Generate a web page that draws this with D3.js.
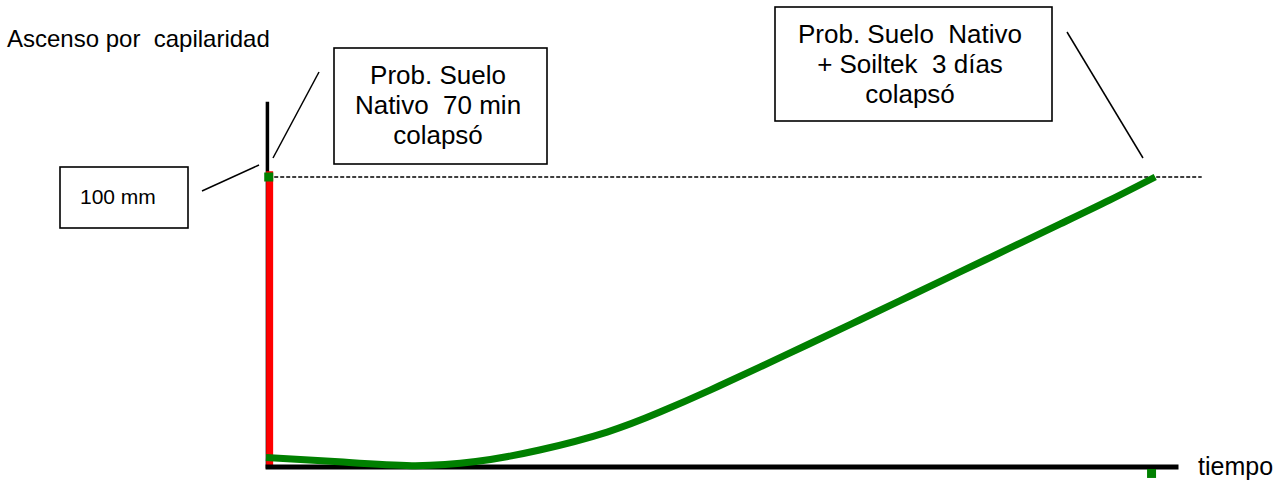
<!DOCTYPE html>
<html>
<head>
<meta charset="utf-8">
<script src="https://cdn.jsdelivr.net/npm/d3@7"></script>
<style>
  body { margin: 0; background: #fff; }
  svg { display: block; }
  text { font-family: "Liberation Sans", Arial, sans-serif; fill: #000; white-space: pre; }
</style>
</head>
<body>
<div id="chart"></div>
<script>
// Ascenso por capilaridad vs tiempo (arbitrary time units)

// Suelo nativo + Soiltek (green)
const tiempoSoiltek = [0, 8, 16, 23, 30, 37.4, 43.2, 48.7, 54.2, 59.6, 65.1, 70.6, 76.1, 81.6, 87.1, 92.5, 97.5];
const ascensoSoiltek = [3.1, 1.6, 0.3, 1.7, 5.7, 11.9, 18.8, 26.4, 34.4, 42.4, 50.6, 58.9, 67.2, 75.5, 83.8, 92.0, 100];

// Suelo nativo (red) - collapses almost immediately
const tiempoNativo = [0.4, 0.4];
const ascensoNativo = [-0.5, 102];

// loose green markers
const markerTiempo = [0.3, 97.1];
const markerAscenso = [100, -2.4];

// reference level
const nivelRef = 100;

// annotation texts
const tituloY = 'Ascenso por  capilaridad';
const tituloX = 'tiempo';
const etiquetaNivel = '100 mm';
const notaNativo = ['Prob. Suelo', 'Nativo  70 min', 'colapsó'];
const notaSoiltek = ['Prob. Suelo  Nativo', '+ Soiltek  3 días', 'colapsó'];

let svgWidth = 1277;
let svgHeight = 485;

let svg = d3.select('#chart')
  .append('svg')
  .attr('width', svgWidth)
  .attr('height', svgHeight);

// scales
let x = d3.scaleLinear().domain([0, 100]).range([266, 1178]);
let y = d3.scaleLinear().domain([0, 100]).range([466.5, 177]);

// y axis (no ticks, just the line)
let yAxisScale = d3.scaleLinear().domain([-0.5, 126.2]).range([y(-0.5), y(126.2)]);
svg.append('g')
  .attr('transform', `translate(${x(0.1)},0)`)
  .call(d3.axisLeft(yAxisScale).tickValues([]).tickSizeOuter(0))
  .select('.domain')
  .attr('stroke', '#000')
  .attr('stroke-width', 3.5);

// dashed 100 mm level
svg.append('line')
  .attr('x1', x(0.9)).attr('x2', x(102.6))
  .attr('y1', y(nivelRef)).attr('y2', y(nivelRef))
  .attr('stroke', '#000')
  .attr('stroke-width', 1.3)
  .attr('stroke-dasharray', '4,2');

// red series
let lineNativo = d3.line()
  .x((d, i) => x(tiempoNativo[i]))
  .y(d => y(d));
svg.append('path')
  .datum(ascensoNativo)
  .attr('d', lineNativo)
  .attr('fill', 'none')
  .attr('stroke', '#ff0000')
  .attr('stroke-width', 7);

// x axis
let xAxisScale = d3.scaleLinear().domain([-0.1, 100]).range([x(-0.1), x(100)]);
svg.append('g')
  .attr('transform', `translate(0,${y(0)})`)
  .call(d3.axisBottom(xAxisScale).tickValues([]).tickSizeOuter(0))
  .select('.domain')
  .attr('stroke', '#000')
  .attr('stroke-width', 5);

// green series
let lineSoiltek = d3.line()
  .x((d, i) => x(tiempoSoiltek[i]))
  .y(d => y(d))
  .curve(d3.curveNatural);
svg.append('path')
  .datum(ascensoSoiltek)
  .attr('d', lineSoiltek)
  .attr('fill', 'none')
  .attr('stroke', '#008000')
  .attr('stroke-width', 7);

// green markers
svg.selectAll('rect.marker')
  .data(markerTiempo)
  .enter()
  .append('rect')
  .attr('class', 'marker')
  .attr('x', d => x(d) - 4.5)
  .attr('y', (d, i) => y(markerAscenso[i]) - 4.5)
  .attr('width', 9)
  .attr('height', 9)
  .attr('fill', '#008000');

// axis titles
svg.append('text')
  .attr('x', 7).attr('y', 47)
  .attr('font-size', '24px')
  .text(tituloY);

svg.append('text')
  .attr('x', 1198).attr('y', 475)
  .attr('font-size', '25px')
  .text(tituloX);

// annotation boxes
function nota(bx, by, bw, bh, lines, cx, firstBase, fontSize) {
  svg.append('rect')
    .attr('x', bx).attr('y', by)
    .attr('width', bw).attr('height', bh)
    .attr('fill', '#fff')
    .attr('stroke', '#000')
    .attr('stroke-width', 1.6);
  svg.selectAll(null)
    .data(lines)
    .enter()
    .append('text')
    .attr('x', cx)
    .attr('y', (d, i) => firstBase + i * 30)
    .attr('text-anchor', 'middle')
    .attr('font-size', fontSize)
    .text(d => d);
}

nota(60, 167, 128, 61, [], 0, 0, '21px');
svg.append('text')
  .attr('x', 80).attr('y', 204)
  .attr('font-size', '21px')
  .text(etiquetaNivel);

nota(334, 48, 213, 116, notaNativo, 438, 84, '26px');
nota(775, 7, 277, 114, notaSoiltek, 910, 43, '26px');

// leader lines
let leaders = [
  [202, 191, 259, 165],
  [319, 72, 273, 158],
  [1067, 32, 1143, 158]
];
svg.selectAll('line.leader')
  .data(leaders)
  .enter()
  .append('line')
  .attr('class', 'leader')
  .attr('x1', d => d[0]).attr('y1', d => d[1])
  .attr('x2', d => d[2]).attr('y2', d => d[3])
  .attr('stroke', '#000')
  .attr('stroke-width', 1.5);
</script>
</body>
</html>
